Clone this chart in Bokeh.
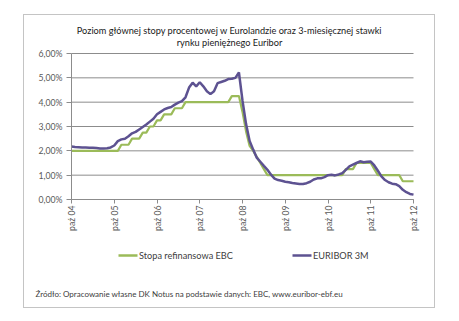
from bokeh.plotting import figure
from bokeh.models import Range1d, FixedTicker, Label, BoxAnnotation
from bokeh.embed import file_html
from bokeh.resources import INLINE

# ---- data (monthly, index 0 = October 2004 ... 96 = October 2012) ----
ebc_rate = (
    [2.00] * 14 + [2.25] * 3 + [2.50] * 3 + [2.75] * 2 + [3.00] * 2 + [3.25] * 2 +
    [3.50] * 3 + [3.75] * 3 + [4.00] * 13 + [4.25] * 3 +
    [3.60, 2.80, 2.20, 2.00, 1.75, 1.50, 1.25] +
    [1.00] * 22 + [1.25] * 3 + [1.50] * 5 + [1.25] + [1.00] * 7 + [0.75] * 4
)
euribor_3m = [
    2.18, 2.16, 2.15, 2.14, 2.14, 2.13, 2.13, 2.12, 2.10, 2.10, 2.11, 2.14,
    2.22, 2.40, 2.47, 2.50, 2.60, 2.72, 2.78, 2.88, 2.98, 3.08, 3.20, 3.32,
    3.50, 3.60, 3.70, 3.76, 3.80, 3.90, 3.98, 4.04, 4.20, 4.60, 4.80, 4.65,
    4.82, 4.65, 4.45, 4.33, 4.45, 4.78, 4.83, 4.88, 4.95, 4.96, 5.00, 5.22,
    4.06, 3.10, 2.40, 2.05, 1.72, 1.55, 1.38, 1.22, 1.02, 0.86, 0.80, 0.77,
    0.73, 0.71, 0.68, 0.66, 0.64, 0.64, 0.67, 0.73, 0.82, 0.87, 0.87, 0.92,
    1.00, 1.02, 0.99, 1.03, 1.08, 1.22, 1.36, 1.43, 1.50, 1.57, 1.53, 1.55,
    1.56, 1.40, 1.18, 0.95, 0.80, 0.71, 0.65, 0.63, 0.55, 0.40, 0.30, 0.23,
    0.20,
]
months = list(range(len(euribor_3m)))

x_tick_pos = [0, 12, 24, 36, 48, 60, 72, 84, 96]
x_tick_labels = ["paź 04", "paź 05", "paź 06", "paź 07", "paź 08",
                 "paź 09", "paź 10", "paź 11", "paź 12"]
y_tick_pos = [0, 1, 2, 3, 4, 5, 6]
y_tick_labels = ["0,00%", "1,00%", "2,00%", "3,00%", "4,00%", "5,00%", "6,00%"]

title_lines = ["Poziom głównej stopy procentowej w Eurolandzie oraz 3-miesięcznej stawki",
               "rynku pieniężnego Euribor"]
series_names = ["Stopa refinansowa EBC", "EURIBOR 3M"]
source_text = "Źródło: Opracowanie własne  DK Notus na podstawie danych: EBC, www.euribor-ebf.eu"

GREEN = "#9bbb59"
PURPLE = "#5d5291"
GRID = "#8c8c8c"
FONT = "Lato"

# chart box (framed area of the original) is 410 x 292, placed at (24, 15) on the page;
# the plotting frame covers the whole box, the axes are pinned at x = 0 and y = 0.
W, H = 410, 292
PL, PR = 47, 389          # pixel columns of the first / last month
Y6, Y0 = 38, 184          # pixel rows of 6 % and 0 %
XMAX, YMAX = months[-1], y_tick_pos[-1]


def dx(px):
    return (px - PL) * XMAX / (PR - PL)


def dy(py):
    return (Y0 - py) * YMAX / (Y0 - Y6)


p = figure(width=W, height=H, output_backend="svg", toolbar_location=None,
           x_range=Range1d(dx(0), dx(W)), y_range=Range1d(dy(H), dy(0)),
           min_border=0, margin=(15, 0, 0, 24))
p.styles = {"outline": "1.5px solid #c4c4c4"}
p.outline_line_color = None
p.background_fill_color = "white"
p.border_fill_color = "white"
p.xgrid.visible = False
p.ygrid.visible = False

# horizontal gridlines spanning the data period
p.segment(x0=[months[0]] * len(y_tick_pos), x1=[months[-1]] * len(y_tick_pos),
          y0=y_tick_pos, y1=y_tick_pos, line_color=GRID, line_width=1)

# axes
for ax in (p.xaxis[0], p.yaxis[0]):
    ax.fixed_location = 0
    ax.axis_line_color = GRID
    ax.major_tick_line_color = GRID
    ax.minor_tick_line_color = None
    ax.major_tick_in = 0
    ax.major_label_text_font = FONT
    ax.major_label_text_font_size = "8.7px"
    ax.major_label_text_color = "#595959"

p.yaxis.ticker = FixedTicker(ticks=y_tick_pos)
p.yaxis.bounds = (0, YMAX)
p.yaxis.major_label_overrides = {v: s for v, s in zip(y_tick_pos, y_tick_labels)}
p.yaxis.major_tick_out = 5
p.yaxis.major_label_standoff = 4

p.xaxis.ticker = FixedTicker(ticks=x_tick_pos)
p.xaxis.bounds = (0, XMAX)
p.xaxis.major_label_overrides = {v: s for v, s in zip(x_tick_pos, x_tick_labels)}
p.xaxis.major_label_orientation = 1.5708
p.xaxis.major_tick_out = 4
p.xaxis.major_label_standoff = 2

# series
p.line(months, ebc_rate, line_color=GREEN, line_width=2.2)
p.line(months, euribor_3m, line_color=PURPLE, line_width=2.5)

# title (two lines)
for i, t in enumerate(title_lines):
    p.add_layout(Label(x=dx(205), y=dy(14.5 + 12.3 * i), text=t, text_align="center",
                       text_baseline="middle", text_font=FONT,
                       text_font_size="9.2px", text_color="#1a1a1a"))

# legend
leg = [(94, 113, GREEN, series_names[0]), (268, 287, PURPLE, series_names[1])]
for x0, x1, c, name in leg:
    p.add_layout(BoxAnnotation(left=dx(x0), right=dx(x1), top=dy(238.8), bottom=dy(241.2),
                               fill_color=c, fill_alpha=1, line_color=None))
    p.add_layout(Label(x=dx(x1 + 1.5), y=dy(240), text=name, text_align="left",
                       text_baseline="middle", text_font=FONT,
                       text_font_size="9.2px", text_color="#404040"))

# source
p.add_layout(Label(x=dx(11), y=dy(278.5), text=source_text, text_align="left",
                   text_baseline="middle", text_font=FONT,
                   text_font_size="8px", text_color="#404040"))

open("out.html", "w").write(file_html(p, INLINE))
